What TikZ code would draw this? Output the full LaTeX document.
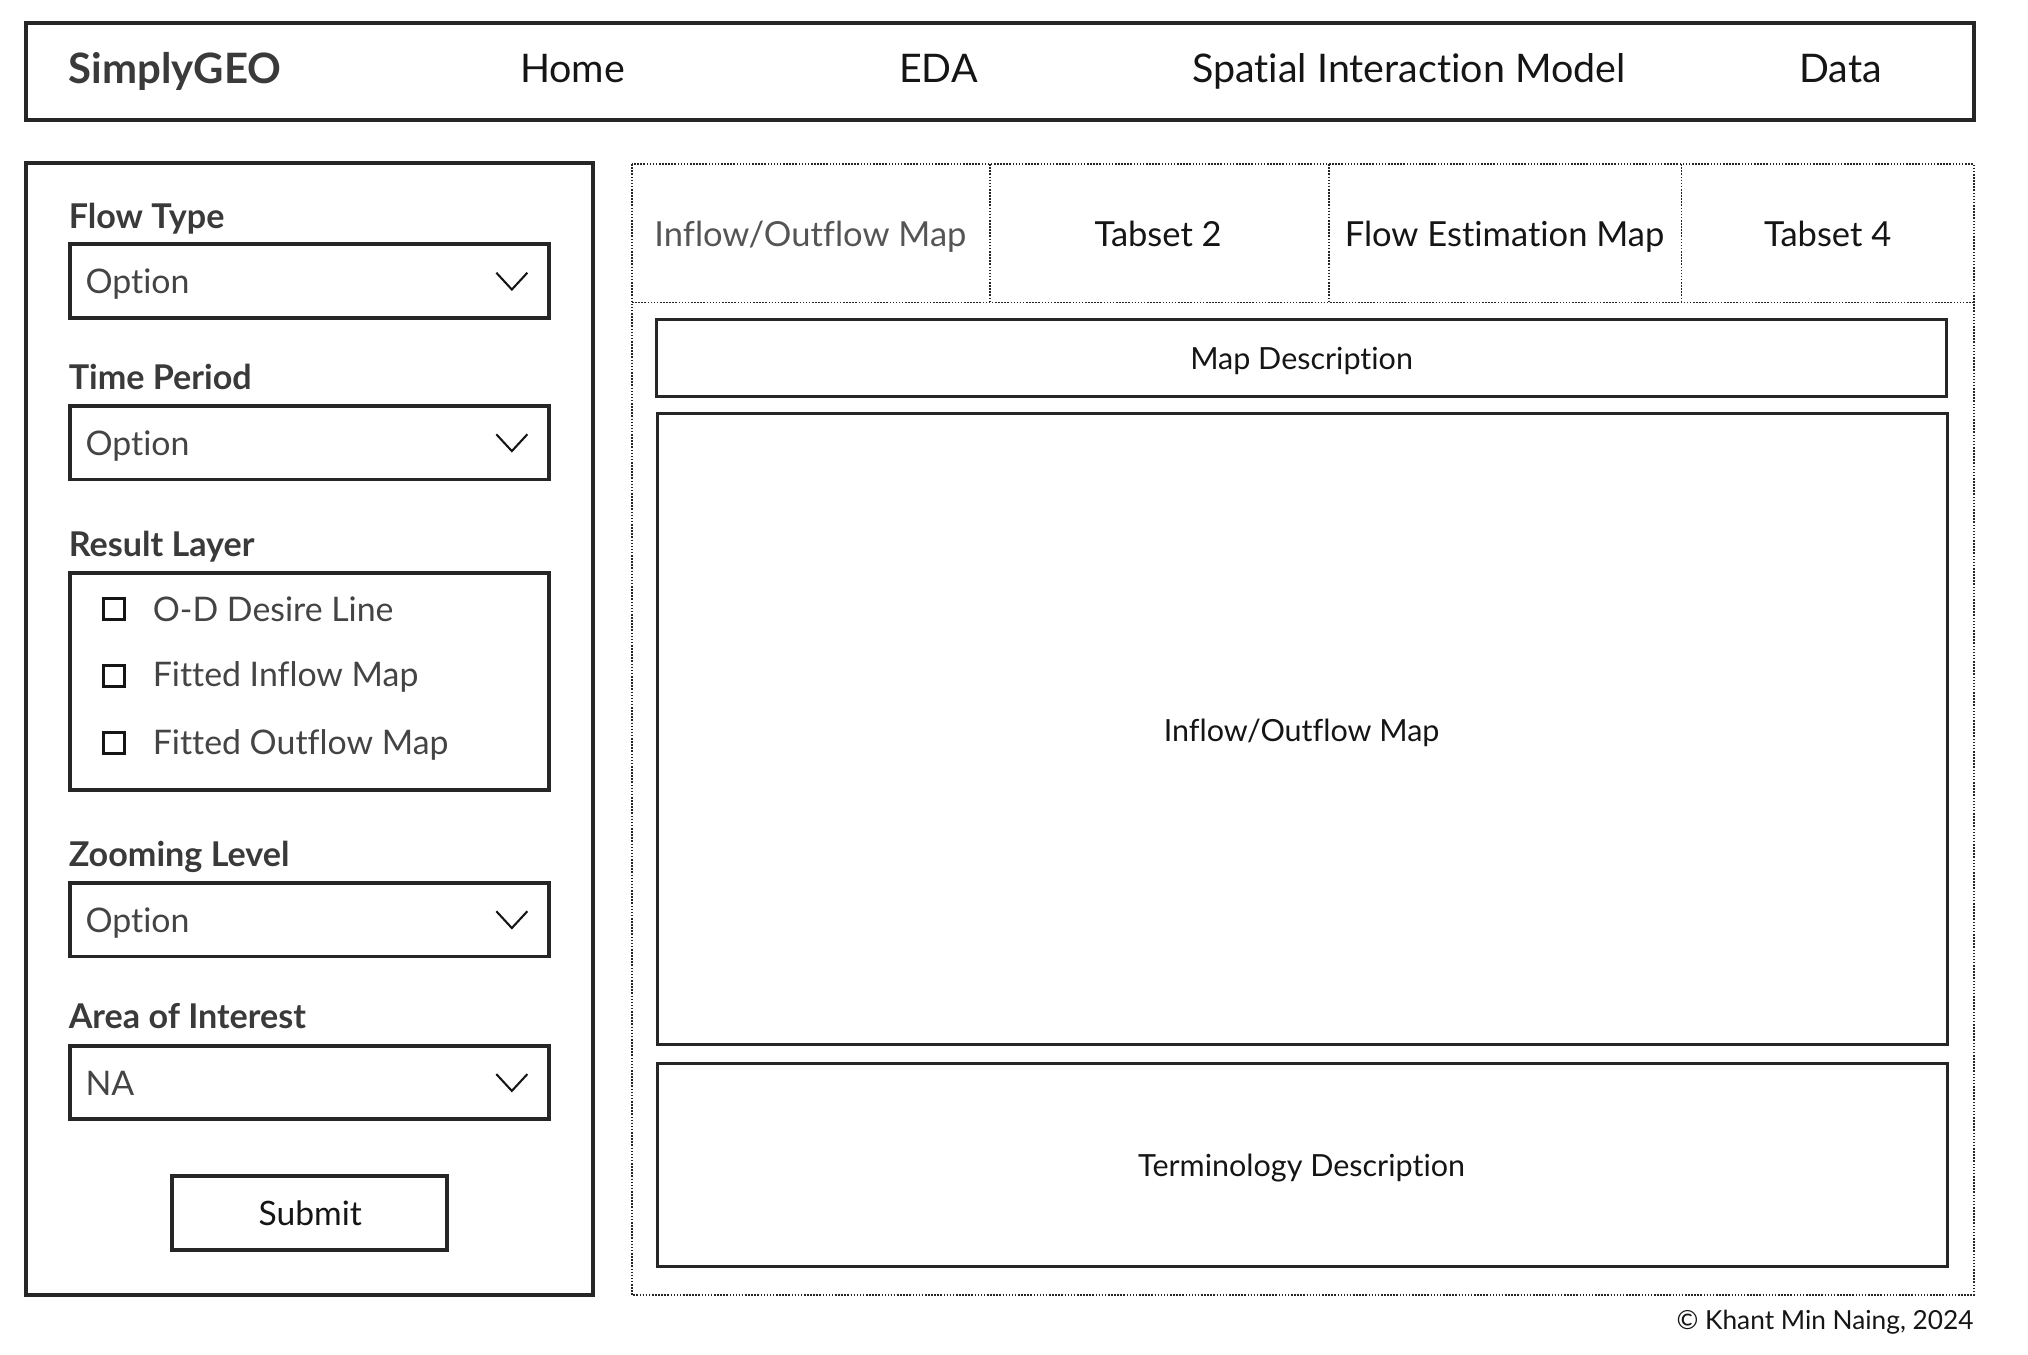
\documentclass[tikz,border=0pt]{standalone}
\usepackage{fontspec}
\setmainfont{Lato}[Ligatures=NoCommon]
\definecolor{boxc}{HTML}{262626}
\definecolor{lblc}{HTML}{3A3A3A}
\definecolor{optc}{HTML}{444444}
\definecolor{tabg}{HTML}{555555}
\definecolor{navc}{HTML}{151515}
\tikzset{
  txt/.style={inner sep=0pt, text depth=0pt},
  frame/.style={draw=boxc, line width=3pt, inner sep=0pt},
  innerbox/.style={draw=boxc, line width=2.2pt, inner sep=0pt},
  dotbox/.style={draw=black!85, line width=1.2pt, dash pattern=on 1.2pt off 1.2pt},
  navtxt/.style={txt, text height=22pt, font=\fontsize{30.5}{36}\selectfont, text=navc},
  sidelbl/.style={txt, text height=19pt, font=\bfseries\fontsize{26.4}{31}\selectfont, text=lblc, anchor=west},
  opttxt/.style={txt, text height=18.9pt, font=\fontsize{26.2}{31}\selectfont, text=optc, anchor=west},
  tabtxt/.style={txt, text height=19.2pt, font=\fontsize{26.7}{31}\selectfont, text=navc},
  btntxt/.style={txt, text height=18.7pt, font=\fontsize{26}{31}\selectfont, text=navc},
  desctxt/.style={txt, text height=17pt, font=\fontsize{23.6}{28}\selectfont, text=navc},
  chev/.style={draw=navc, line width=1.6pt},
  cbox/.style={draw=navc, line width=2.2pt, minimum size=16pt, inner sep=0pt},
}
\begin{document}
\begin{tikzpicture}[x=1pt,y=-1pt]
\useasboundingbox (0,0) rectangle (1569,1048);
% top navigation
\draw[frame] (20,18) rectangle (1527,93);
\node[txt, text height=23.3pt, font=\bfseries\fontsize{32.4}{38}\selectfont, text=lblc, anchor=west] (brand) at (53,53) {SimplyGEO};
\node[navtxt] (home) at (443,53) {Home};
\node[navtxt] (eda) at (726,53) {EDA};
\node[navtxt] (sim) at (1090,53) {Spatial Interaction Model};
\node[navtxt] (data) at (1424,53) {Data};
% left panel
\draw[frame] (20,126) rectangle (459,1002);
% Flow Type
\node[sidelbl] (lft) at (53,167) {Flow Type};
\draw[frame] (54,189) rectangle (425,246);
\node[opttxt] (oft) at (66,218) {Option};
\draw[chev] (384,211) -- (396,224) -- (408,211);
% Time Period
\node[sidelbl] (ltp) at (53,292) {Time Period};
\draw[frame] (54,314) rectangle (425,371);
\node[opttxt] (otp) at (66,343) {Option};
\draw[chev] (384,336) -- (396,349) -- (408,336);
% Result Layer
\node[sidelbl] (lrl) at (53,421) {Result Layer};
\draw[frame] (54,443) rectangle (425,611);
\node[cbox] (c1) at (88,471) {};
\node[opttxt] (t1) at (118,471) {O-D Desire Line};
\node[cbox] (c2) at (88,523) {};
\node[opttxt] (t2) at (118,522) {Fitted Inflow Map};
\node[cbox] (c3) at (88,575) {};
\node[opttxt] (t3) at (118,574) {Fitted Outflow Map};
% Zooming Level
\node[sidelbl] (lzl) at (53,661) {Zooming Level};
\draw[frame] (54,683) rectangle (425,740);
\node[opttxt] (ozl) at (66,712) {Option};
\draw[chev] (384,705) -- (396,718) -- (408,705);
% Area of Interest
\node[sidelbl] (lai) at (53,786) {Area of Interest};
\draw[frame] (54,809) rectangle (425,866);
\node[opttxt] (oai) at (66,838) {NA};
\draw[chev] (384,831) -- (396,844) -- (408,831);
% Submit
\draw[frame] (133,910) rectangle (346,967);
\node[btntxt] (submit) at (240,939) {Submit};
% right container
\draw[dotbox] (489,127) rectangle (1527,1002);
\draw[dotbox] (489,234) -- (1527,234);
\draw[dotbox] (766,127) -- (766,234);
\draw[dotbox] (1028,127) -- (1028,234);
\draw[dotbox] (1301,127) -- (1301,234);
\node[tabtxt, text=tabg] (tab1) at (627,181) {Inflow/Outflow Map};
\node[tabtxt] (tab2) at (896,181) {Tabset 2};
\node[tabtxt] (tab3) at (1164,181) {Flow Estimation Map};
\node[tabtxt] (tab4) at (1414,181) {Tabset 4};
% content boxes
\draw[innerbox] (508,247) rectangle (1506,307);
\node[desctxt] (mapdesc) at (1007,277) {Map Description};
\draw[innerbox] (509,320) rectangle (1507,808);
\node[desctxt] (mapmain) at (1007,565) {Inflow/Outflow Map};
\draw[innerbox] (509,823) rectangle (1507,980);
\node[desctxt] (termdesc) at (1007,902) {Terminology Description};
% copyright
\node[txt, text height=14.6pt, font=\fontsize{20.3}{24}\selectfont, text=navc, anchor=east] (copy) at (1527,1021) {© Khant Min Naing, 2024};
\end{tikzpicture}
\end{document}
